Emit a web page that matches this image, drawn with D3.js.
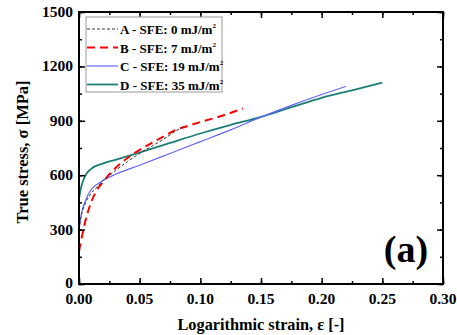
<!DOCTYPE html>
<html>
<head>
<meta charset="utf-8">
<script src="https://cdn.jsdelivr.net/npm/d3@7"></script>
<style>
    body { margin: 0; background: #fff; }
    svg { display: block; }
    text { font-family: "Liberation Serif", "Times New Roman", serif; font-weight: bold; fill: #000; }
</style>
</head>
<body>
<div id="chart"></div>
<script>
"use strict";

// strain [-] and true stress [MPa]
var strainA = [0, 0.002, 0.005, 0.01, 0.015, 0.02, 0.03, 0.04, 0.05, 0.06, 0.07, 0.08, 0.087];
var stressA = [300, 380, 440, 500, 535, 570, 625, 675, 720, 760, 800, 845, 872];

var strainB = [0, 0.003, 0.005, 0.01, 0.015, 0.02, 0.03, 0.04, 0.05, 0.06, 0.07, 0.08, 0.09, 0.1, 0.12, 0.135];
var stressB = [180, 280, 340, 450, 520, 565, 640, 695, 740, 778, 815, 850, 872, 893, 932, 968];

var strainC = [0, 0.002, 0.005, 0.01, 0.015, 0.02, 0.03, 0.05, 0.075, 0.1, 0.125, 0.15, 0.175, 0.2, 0.22];
var stressC = [300, 390, 455, 520, 550, 572, 605, 655, 720, 785, 850, 920, 985, 1045, 1090];

var strainD = [0, 0.002, 0.005, 0.01, 0.02, 0.03, 0.05, 0.075, 0.1, 0.125, 0.15, 0.175, 0.2, 0.225, 0.25];
var stressD = [470, 540, 595, 635, 665, 685, 725, 778, 830, 877, 922, 975, 1027, 1068, 1110];

var seriesNames = ["A - SFE: 0 mJ/m", "B - SFE: 7 mJ/m", "C - SFE: 19 mJ/m", "D - SFE: 35 mJ/m"];
var xTicks = [0, 0.05, 0.1, 0.15, 0.2, 0.25, 0.3];
var yTicks = [0, 300, 600, 900, 1200, 1500];

var width = 457, height = 335;
var margin = {left: 79, right: 14, top: 12, bottom: 51};

var svg = d3.select("#chart").append("svg")
    .attr("width", width)
    .attr("height", height);

var x = d3.scaleLinear().domain([0, 0.3]).range([margin.left, width - margin.right]);
var y = d3.scaleLinear().domain([0, 1500]).range([height - margin.bottom, margin.top]);

var styles = [
    {color: "#333333", width: 1, dash: "3,2"},
    {color: "#ff0000", width: 2, dash: "8,5"},
    {color: "#6464ff", width: 1.2, dash: null},
    {color: "#1b7f78", width: 1.8, dash: null}
];

var series = [
    d3.zip(strainA, stressA),
    d3.zip(strainB, stressB),
    d3.zip(strainC, stressC),
    d3.zip(strainD, stressD)
];

var line = d3.line()
    .x(function (d) { return x(d[0]); })
    .y(function (d) { return y(d[1]); })
    .curve(d3.curveMonotoneX);

// curves, drawn D first so A/B stay on top like the original
[3, 2, 1, 0].forEach(function (i) {
    svg.append("path")
        .datum(series[i])
        .attr("d", line)
        .attr("fill", "none")
        .attr("stroke", styles[i].color)
        .attr("stroke-width", styles[i].width)
        .attr("stroke-dasharray", styles[i].dash);
});

// axes: inward ticks on all four sides, with minor ticks in between
var xMinor = d3.range(0, 0.3001, 0.025);
var yMinor = d3.range(0, 1501, 150);

function tickAxis(axisFn, scale, values, size, transform) {
    var g = svg.append("g")
        .attr("transform", transform)
        .call(axisFn(scale).tickValues(values).tickSize(size).tickFormat(""));
    g.select(".domain").remove();
    g.selectAll("line").attr("stroke", "#000").attr("stroke-width", 1.5);
    return g;
}

var bottomY = height - margin.bottom, topY = margin.top;
var leftX = margin.left, rightX = width - margin.right;

tickAxis(d3.axisTop, x, xMinor, 3, "translate(0," + bottomY + ")");
tickAxis(d3.axisTop, x, xTicks, 6, "translate(0," + bottomY + ")");
tickAxis(d3.axisBottom, x, xMinor, 3, "translate(0," + topY + ")");
tickAxis(d3.axisBottom, x, xTicks, 6, "translate(0," + topY + ")");
tickAxis(d3.axisRight, y, yMinor, 3, "translate(" + leftX + ",0)");
tickAxis(d3.axisRight, y, yTicks, 6, "translate(" + leftX + ",0)");
tickAxis(d3.axisLeft, y, yMinor, 3, "translate(" + rightX + ",0)");
tickAxis(d3.axisLeft, y, yTicks, 6, "translate(" + rightX + ",0)");

svg.append("rect")
    .attr("x", leftX).attr("y", topY)
    .attr("width", rightX - leftX).attr("height", bottomY - topY)
    .attr("fill", "none").attr("stroke", "#000").attr("stroke-width", 2);

// tick labels
svg.append("g").selectAll("text")
    .data(xTicks).enter().append("text")
    .attr("x", function (d) { return x(d); })
    .attr("y", bottomY + 20)
    .attr("text-anchor", "middle")
    .style("font-size", "15.5px")
    .text(function (d) { return d3.format(".2f")(d); });

svg.append("g").selectAll("text")
    .data(yTicks).enter().append("text")
    .attr("x", leftX - 6)
    .attr("y", function (d) { return y(d) + (d === 0 ? 4 : 5); })
    .attr("text-anchor", "end")
    .style("font-size", "15.5px")
    .text(function (d) { return d; });

// axis titles
svg.append("text")
    .attr("x", 261).attr("y", 330)
    .attr("text-anchor", "middle")
    .style("font-size", "16.3px")
    .text("Logarithmic strain, \u03b5 [-]");

svg.append("text")
    .attr("transform", "translate(28,152) rotate(-90)")
    .attr("text-anchor", "middle")
    .style("font-size", "16.5px")
    .text("True stress, \u03c3 [MPa]");

// legend
var legend = svg.append("g");
legend.append("rect")
    .attr("x", 86).attr("y", 17).attr("width", 136).attr("height", 75)
    .attr("fill", "#fff").attr("stroke", "#999").attr("stroke-width", 1);

var rows = legend.selectAll("g.row")
    .data(seriesNames).enter().append("g")
    .attr("class", "row")
    .attr("transform", function (d, i) { return "translate(0," + (29 + i * 18.5) + ")"; });

rows.append("line")
    .attr("x1", 87).attr("x2", 118)
    .attr("y1", 0).attr("y2", 0)
    .attr("stroke", function (d, i) { return styles[i].color; })
    .attr("stroke-width", function (d, i) { return styles[i].width; })
    .attr("stroke-dasharray", function (d, i) { return styles[i].dash; });

var labels = rows.append("text")
    .attr("x", 120).attr("y", 5)
    .style("font-size", "13px")
    .text(function (d) { return d; });
labels.append("tspan")
    .attr("dy", -6)
    .style("font-size", "7px")
    .text("2");

// panel letter
svg.append("text")
    .attr("x", 406).attr("y", 262)
    .attr("text-anchor", "middle")
    .style("font-size", "38px")
    .text("(a)");
</script>
</body>
</html>
